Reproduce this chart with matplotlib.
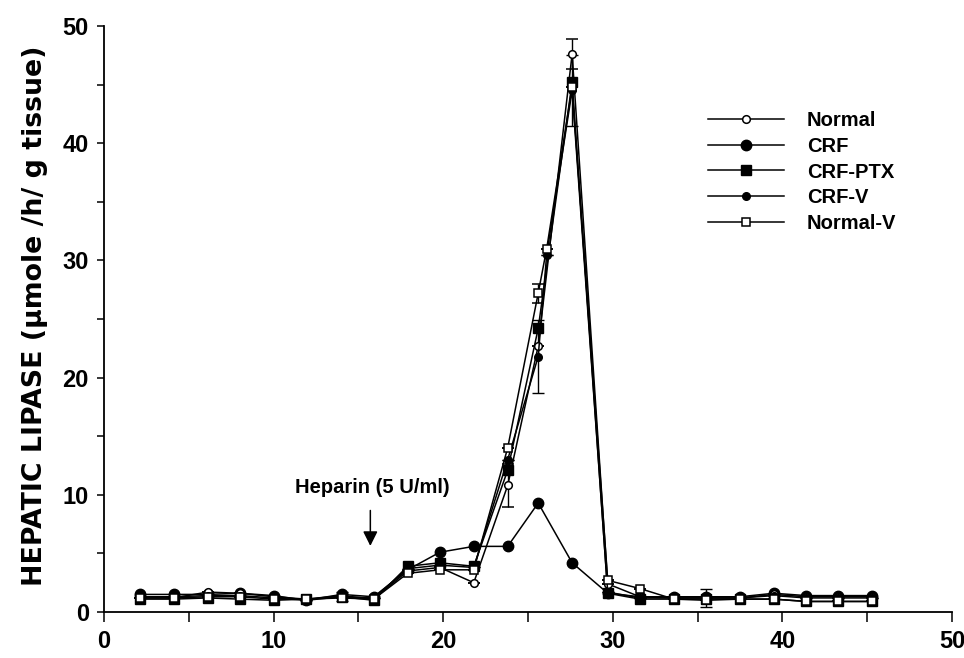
import matplotlib
matplotlib.use("Agg")
import matplotlib.pyplot as plt
from matplotlib.lines import Line2D

plt.rcParams['font.family'] = ['Liberation Sans', 'DejaVu Sans']
plt.rcParams['font.weight'] = 'bold'

# fraction positions (x) and hepatic lipase values (y)
x_all = [2.1, 4.1, 6.1, 8.0, 10.0, 11.9, 14.0, 15.9, 17.9, 19.8, 21.8, 23.8,
         25.6, 27.6, 29.7, 31.6, 33.6, 35.5, 37.5, 39.5, 41.4, 43.3, 45.3]
# the two "-V" groups have one extra sample on the rising side of the peak
x_v = [2.1, 4.1, 6.1, 8.0, 10.0, 11.9, 14.0, 15.9, 17.9, 19.8, 21.8, 23.8,
       25.6, 26.1, 27.6, 29.7, 31.6, 33.6, 35.5, 37.5, 39.5, 41.4, 43.3, 45.3]

normal = [1.2, 1.2, 1.7, 1.6, 1.3, 1.1, 1.4, 1.1, 3.5, 3.8, 2.5, 10.8,
          22.7, 47.6, 2.4, 1.3, 1.2, 1.2, 1.2, 1.5, 1.3, 1.3, 1.3]
normal_err = [0, 0, 0, 0, 0, 0, 0, 0, 0, 0, 0, 1.8,
              0, 1.3, 0, 0, 0, 0, 0, 0, 0, 0, 0]
crf = [1.5, 1.5, 1.5, 1.6, 1.4, 1.0, 1.5, 1.3, 3.6, 5.1, 5.6, 5.6,
       9.3, 4.2, 1.6, 1.3, 1.3, 1.3, 1.3, 1.6, 1.4, 1.4, 1.4]
crf_ptx = [1.1, 1.1, 1.2, 1.1, 1.0, 1.1, 1.3, 1.0, 3.9, 4.2, 3.9, 12.1,
           24.2, 45.2, 1.6, 1.1, 1.1, 1.1, 1.1, 1.1, 0.9, 0.9, 0.9]
crf_v = [1.3, 1.3, 1.4, 1.4, 1.2, 1.0, 1.3, 1.2, 3.7, 4.0, 3.8, 13.0,
         21.8, 30.5, 44.5, 1.7, 1.2, 1.2, 1.2, 1.2, 1.4, 1.2, 1.2, 1.2]
crf_v_err = [0, 0, 0, 0, 0, 0, 0.4, 0, 0, 0, 0, 0,
             3.1, 0, 3.0, 0, 0, 0, 0.8, 0, 0, 0, 0, 0]
normal_v = [1.2, 1.2, 1.3, 1.3, 1.1, 1.1, 1.2, 1.1, 3.3, 3.6, 3.6, 14.0,
            27.2, 31.0, 44.8, 2.7, 2.0, 1.1, 1.0, 1.1, 1.1, 0.9, 0.9, 0.9]
normal_v_err = [0, 0, 0, 0, 0, 0, 0, 0, 0, 0, 0, 0,
                0.8, 0, 0, 0, 0, 0, 0, 0, 0, 0, 0, 0]

labels = ['Normal', 'CRF', 'CRF-PTX', 'CRF-V', 'Normal-V']

fig = plt.figure(figsize=(9.64, 6.58), dpi=100)
ax = fig.add_axes([0.108, 0.0699, 0.8795, 0.8906])

lw = 1.1
# marker styles per group
st_normal = dict(marker='o', ms=5.5, mfc='white', mec='black', mew=1.1)
st_crf = dict(marker='o', ms=7.5)
st_ptx = dict(marker='s', ms=6.5)
st_crfv = dict(marker='o', ms=5.5)
st_normv = dict(marker='s', ms=5.5, mfc='white', mec='black', mew=1.1)

ax.errorbar(x_all, normal, yerr=normal_err, color='black', lw=lw,
            capsize=4, elinewidth=1, **st_normal)
ax.plot(x_all, crf, color='black', lw=lw, **st_crf)
ax.plot(x_all, crf_ptx, color='black', lw=lw, **st_ptx)
ax.errorbar(x_v, crf_v, yerr=crf_v_err, color='black', lw=lw,
            capsize=4, elinewidth=1, **st_crfv)
ax.errorbar(x_v, normal_v, yerr=normal_v_err, color='black', lw=lw,
            capsize=4, elinewidth=1, **st_normv)

ax.set_xlim(0, 50)
ax.set_ylim(0, 50)
ax.set_xticks(range(0, 51, 10))
ax.set_xticks(range(5, 50, 10), minor=True)
ax.set_yticks(range(0, 51, 10))
ax.set_yticks(range(5, 50, 10), minor=True)

for s in ['top', 'right']:
    ax.spines[s].set_visible(False)
for s in ['left', 'bottom']:
    ax.spines[s].set_linewidth(1.3)

ax.tick_params(axis='x', which='both', direction='out', length=7, width=1.1,
               pad=6, labelsize=17)
ax.tick_params(axis='y', which='both', direction='out', length=5, width=1.1,
               pad=6, labelsize=17)

# y axis title (wider font so it runs the full height like the original)
fig.text(35 / 964, 1 - 316 / 658, 'HEPATIC LIPASE (\u03bcmole /h/ g tissue)',
         rotation=90, ha='center', va='center', fontsize=19.3,
         fontweight='bold', family='DejaVu Sans')

# heparin marker
ax.annotate('', xy=(15.7, 5.4), xytext=(15.7, 8.9),
            arrowprops=dict(arrowstyle='-|>', color='black', lw=1.1,
                            mutation_scale=22))
ax.text(15.8, 10.6, 'Heparin (5 U/ml)', ha='center', va='center',
        fontsize=14.5, fontweight='bold')

handles = [Line2D([], [], color='black', lw=lw, **st) for st in
           [st_normal, st_crf, st_ptx, st_crfv, st_normv]]
ax.legend(handles, labels, loc='center left', bbox_to_anchor=(0.7344, 0.7386),
          bbox_transform=fig.transFigure, frameon=False, fontsize=14.5,
          handlelength=3.8, handletextpad=1.1, labelspacing=0.33,
          borderpad=0, borderaxespad=0)

fig.savefig('out.png', dpi=100)
